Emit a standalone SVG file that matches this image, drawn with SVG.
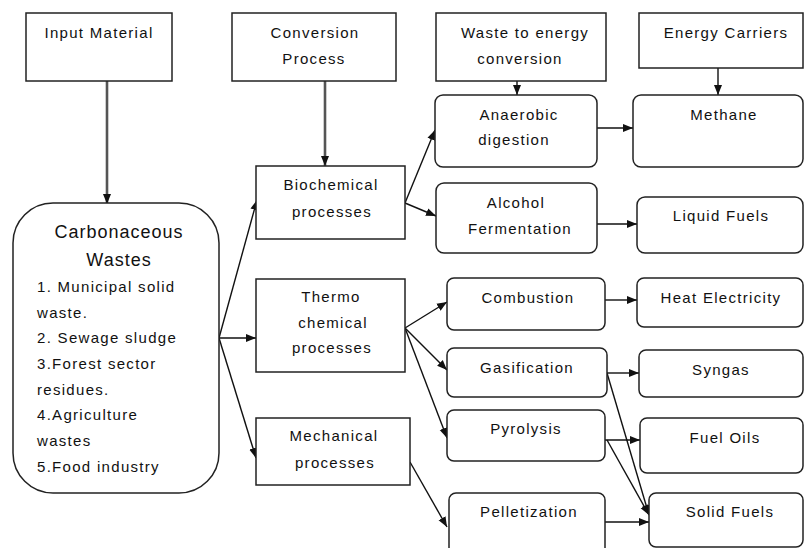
<svg xmlns="http://www.w3.org/2000/svg" width="804" height="548" viewBox="0 0 804 548">
<style>
.box{fill:#fff;stroke:#222;stroke-width:1.5}
.t{font-family:"Liberation Sans",Arial,sans-serif;font-size:15px;letter-spacing:1.3px;fill:#111;text-anchor:middle}
.big{font-size:18px;letter-spacing:1px}
.l{text-anchor:start}
.c{fill:none;stroke:#111;stroke-width:1.4}
.thick{stroke:#555;stroke-width:2.6}
</style>
<defs>
<marker id="ah" markerUnits="userSpaceOnUse" markerWidth="10" markerHeight="10" viewBox="0 0 10 10" refX="10" refY="5" orient="auto">
<path d="M0,1 L10,5 L0,9 Z" fill="#111"/>
</marker>
</defs>
<rect width="804" height="548" fill="#fff"/>
<g id="connectors">
<line class="c thick" x1="107" y1="81" x2="107" y2="204" marker-end="url(#ah)"/>
<line class="c thick" x1="325" y1="81" x2="325" y2="166" marker-end="url(#ah)"/>
<line class="c" x1="517" y1="81" x2="517" y2="95" marker-end="url(#ah)"/>
<line class="c" x1="718" y1="68" x2="718" y2="95" marker-end="url(#ah)"/>
<line class="c" x1="219" y1="338" x2="257" y2="200" marker-end="url(#ah)"/>
<line class="c" x1="219" y1="338" x2="256" y2="338" marker-end="url(#ah)"/>
<line class="c" x1="219" y1="338" x2="256" y2="458" marker-end="url(#ah)"/>
<line class="c" x1="405" y1="203" x2="435" y2="130" marker-end="url(#ah)"/>
<line class="c" x1="405" y1="203" x2="436" y2="216" marker-end="url(#ah)"/>
<line class="c" x1="597" y1="128" x2="633" y2="128" marker-end="url(#ah)"/>
<line class="c" x1="597" y1="224" x2="637" y2="224" marker-end="url(#ah)"/>
<line class="c" x1="405" y1="328" x2="447" y2="302" marker-end="url(#ah)"/>
<line class="c" x1="405" y1="328" x2="447" y2="370" marker-end="url(#ah)"/>
<line class="c" x1="405" y1="328" x2="447" y2="438" marker-end="url(#ah)"/>
<line class="c" x1="410" y1="462" x2="447" y2="527" marker-end="url(#ah)"/>
<line class="c" x1="605" y1="300" x2="637" y2="300" marker-end="url(#ah)"/>
<line class="c" x1="607" y1="373" x2="639" y2="373" marker-end="url(#ah)"/>
<line class="c" x1="605" y1="440" x2="640" y2="440" marker-end="url(#ah)"/>
<line class="c" x1="607" y1="373" x2="649" y2="515" marker-end="url(#ah)"/>
<line class="c" x1="607" y1="440" x2="649" y2="515" marker-end="url(#ah)"/>
<line class="c" x1="605" y1="522" x2="649" y2="522" marker-end="url(#ah)"/>
</g>
<g id="input-material"><rect class="box" x="26" y="13" width="146" height="68"/><text class="t" x="99" y="38">Input Material</text></g>
<g id="conversion-process"><rect class="box" x="232" y="13" width="164" height="68"/><text class="t" x="315" y="38">Conversion</text><text class="t" x="314" y="64">Process</text></g>
<g id="waste-to-energy"><rect class="box" x="436" y="13" width="170" height="68"/><text class="t" x="525" y="38">Waste to energy</text><text class="t" x="520" y="64">conversion</text></g>
<g id="energy-carriers"><rect class="box" x="639" y="13" width="164" height="55"/><text class="t" x="726" y="38">Energy Carriers</text></g>
<g id="carbonaceous"><rect class="box" x="13" y="203" width="206" height="290" rx="40"/>
<text class="t big" x="119" y="238">Carbonaceous</text><text class="t big" x="119" y="266">Wastes</text>
<text class="t l" x="37" y="292">1. Municipal solid</text>
<text class="t l" x="37" y="318">waste.</text>
<text class="t l" x="37" y="343">2. Sewage sludge</text>
<text class="t l" x="37" y="369">3.Forest sector</text>
<text class="t l" x="37" y="395">residues.</text>
<text class="t l" x="37" y="420">4.Agriculture</text>
<text class="t l" x="37" y="446">wastes</text>
<text class="t l" x="37" y="472">5.Food industry</text>
</g>
<g id="biochemical"><rect class="box" x="256" y="166" width="149" height="73"/><text class="t" x="331" y="190">Biochemical</text><text class="t" x="332" y="217">processes</text></g>
<g id="thermochemical"><rect class="box" x="256" y="279" width="149" height="93"/><text class="t" x="331" y="302">Thermo</text><text class="t" x="333" y="328">chemical</text><text class="t" x="332" y="353">processes</text></g>
<g id="mechanical"><rect class="box" x="256" y="418" width="154" height="67"/><text class="t" x="334" y="441">Mechanical</text><text class="t" x="335" y="468">processes</text></g>
<g id="anaerobic"><rect class="box" x="435" y="95" width="162" height="72" rx="8"/><text class="t" x="519" y="120">Anaerobic</text><text class="t" x="514" y="145">digestion</text></g>
<g id="alcohol"><rect class="box" x="436" y="183" width="161" height="70" rx="8"/><text class="t" x="516" y="208">Alcohol</text><text class="t" x="520" y="234">Fermentation</text></g>
<g id="combustion"><rect class="box" x="447" y="278" width="158" height="52" rx="7"/><text class="t" x="528" y="303">Combustion</text></g>
<g id="gasification"><rect class="box" x="447" y="348" width="160" height="49" rx="7"/><text class="t" x="527" y="373">Gasification</text></g>
<g id="pyrolysis"><rect class="box" x="447" y="410" width="158" height="51" rx="7"/><text class="t" x="526" y="434">Pyrolysis</text></g>
<g id="pelletization"><rect class="box" x="449" y="493" width="156" height="70" rx="7"/><text class="t" x="529" y="517">Pelletization</text></g>
<g id="methane"><rect class="box" x="633" y="95" width="170" height="72" rx="8"/><text class="t" x="724" y="120">Methane</text></g>
<g id="liquid-fuels"><rect class="box" x="637" y="197" width="166" height="56" rx="8"/><text class="t" x="721" y="221">Liquid Fuels</text></g>
<g id="heat-electricity"><rect class="box" x="637" y="278" width="166" height="49" rx="7"/><text class="t" x="721" y="303">Heat Electricity</text></g>
<g id="syngas"><rect class="box" x="639" y="350" width="164" height="47" rx="7"/><text class="t" x="721" y="375">Syngas</text></g>
<g id="fuel-oils"><rect class="box" x="640" y="418" width="163" height="55" rx="7"/><text class="t" x="725" y="443">Fuel Oils</text></g>
<g id="solid-fuels"><rect class="box" x="649" y="493" width="154" height="54" rx="7"/><text class="t" x="730" y="517">Solid Fuels</text></g>
</svg>
